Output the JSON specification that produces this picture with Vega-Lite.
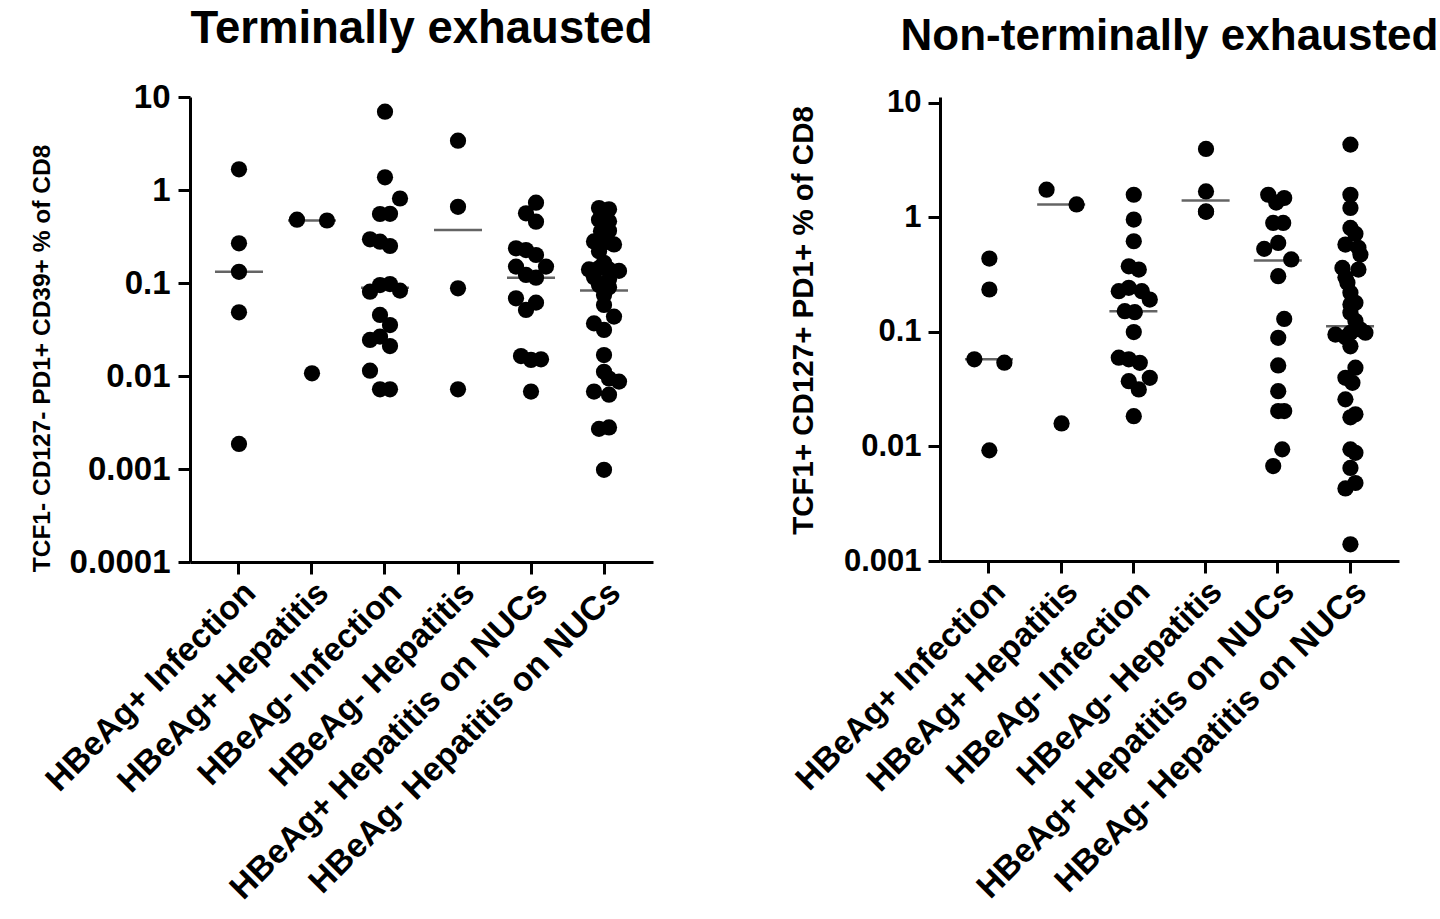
{
  "$schema": "https://vega.github.io/schema/vega-lite/v6.json",
  "background": "white",
  "padding": {"left": 28, "top": 6, "right": 0, "bottom": 0},
  "spacing": 134,
  "config": {
    "view": {"stroke": null},
    "font": "Liberation Sans",
    "title": {"font": "Liberation Sans", "fontSize": 44, "fontWeight": "bold", "color": "black", "anchor": "middle"},
    "axis": {
      "grid": false,
      "domainColor": "black",
      "domainWidth": 3,
      "tickColor": "black",
      "tickWidth": 3,
      "tickSize": 12,
      "labelFont": "Liberation Sans",
      "labelFontWeight": "bold",
      "labelColor": "black",
      "labelLimit": 0,
      "titleFont": "Liberation Sans",
      "titleFontWeight": "bold",
      "titleColor": "black",
      "titleLimit": 0
    },
    "axisX": {"labelAngle": -45, "labelAlign": "right", "labelBaseline": "top", "labelFontSize": 33.5, "labelPadding": 2, "title": null},
    "axisY": {"labelFontSize": 31, "labelPadding": 7, "titleAlign": "center", "titleBaseline": "middle", "titleAngle": -90}
  },
  "datasets": {
    "pts": [
      {"p":"T","g":"HBeAg+ Infection","v":1.67,"s":0},
      {"p":"T","g":"HBeAg+ Infection","v":0.267,"s":0},
      {"p":"T","g":"HBeAg+ Infection","v":0.132,"s":0},
      {"p":"T","g":"HBeAg+ Infection","v":0.0484,"s":0},
      {"p":"T","g":"HBeAg+ Infection","v":0.00186,"s":0},
      {"p":"T","g":"HBeAg+ Hepatitis","v":0.48,"s":-1.5},
      {"p":"T","g":"HBeAg+ Hepatitis","v":0.47,"s":1.5},
      {"p":"T","g":"HBeAg+ Hepatitis","v":0.0107,"s":0},
      {"p":"T","g":"HBeAg- Infection","v":6.95,"s":0},
      {"p":"T","g":"HBeAg- Infection","v":1.37,"s":0},
      {"p":"T","g":"HBeAg- Infection","v":0.81,"s":1.5},
      {"p":"T","g":"HBeAg- Infection","v":0.552,"s":-0.5},
      {"p":"T","g":"HBeAg- Infection","v":0.555,"s":0.5},
      {"p":"T","g":"HBeAg- Infection","v":0.295,"s":-1.5},
      {"p":"T","g":"HBeAg- Infection","v":0.278,"s":-0.5},
      {"p":"T","g":"HBeAg- Infection","v":0.25,"s":0.5},
      {"p":"T","g":"HBeAg- Infection","v":0.0807,"s":-1.5},
      {"p":"T","g":"HBeAg- Infection","v":0.095,"s":-0.5},
      {"p":"T","g":"HBeAg- Infection","v":0.0975,"s":0.5},
      {"p":"T","g":"HBeAg- Infection","v":0.0828,"s":1.5},
      {"p":"T","g":"HBeAg- Infection","v":0.0453,"s":-0.5},
      {"p":"T","g":"HBeAg- Infection","v":0.0353,"s":0.5},
      {"p":"T","g":"HBeAg- Infection","v":0.0244,"s":-1.5},
      {"p":"T","g":"HBeAg- Infection","v":0.0265,"s":-0.5},
      {"p":"T","g":"HBeAg- Infection","v":0.021,"s":0.5},
      {"p":"T","g":"HBeAg- Infection","v":0.0114,"s":-1.5},
      {"p":"T","g":"HBeAg- Infection","v":0.0072,"s":-0.5},
      {"p":"T","g":"HBeAg- Infection","v":0.0072,"s":0.5},
      {"p":"T","g":"HBeAg- Hepatitis","v":3.39,"s":0},
      {"p":"T","g":"HBeAg- Hepatitis","v":0.66,"s":0},
      {"p":"T","g":"HBeAg- Hepatitis","v":0.0877,"s":0},
      {"p":"T","g":"HBeAg- Hepatitis","v":0.0072,"s":0},
      {"p":"T","g":"HBeAg+ Hepatitis on NUCs","v":0.731,"s":0.5},
      {"p":"T","g":"HBeAg+ Hepatitis on NUCs","v":0.561,"s":-0.5},
      {"p":"T","g":"HBeAg+ Hepatitis on NUCs","v":0.456,"s":0.5},
      {"p":"T","g":"HBeAg+ Hepatitis on NUCs","v":0.236,"s":-1.5},
      {"p":"T","g":"HBeAg+ Hepatitis on NUCs","v":0.226,"s":-0.5},
      {"p":"T","g":"HBeAg+ Hepatitis on NUCs","v":0.2,"s":0.5},
      {"p":"T","g":"HBeAg+ Hepatitis on NUCs","v":0.15,"s":1.5},
      {"p":"T","g":"HBeAg+ Hepatitis on NUCs","v":0.15,"s":-1.5},
      {"p":"T","g":"HBeAg+ Hepatitis on NUCs","v":0.122,"s":-0.5},
      {"p":"T","g":"HBeAg+ Hepatitis on NUCs","v":0.114,"s":0.5},
      {"p":"T","g":"HBeAg+ Hepatitis on NUCs","v":0.0684,"s":-1.5},
      {"p":"T","g":"HBeAg+ Hepatitis on NUCs","v":0.0615,"s":0.5},
      {"p":"T","g":"HBeAg+ Hepatitis on NUCs","v":0.0513,"s":-0.5},
      {"p":"T","g":"HBeAg+ Hepatitis on NUCs","v":0.0164,"s":-1},
      {"p":"T","g":"HBeAg+ Hepatitis on NUCs","v":0.0149,"s":0},
      {"p":"T","g":"HBeAg+ Hepatitis on NUCs","v":0.0151,"s":1},
      {"p":"T","g":"HBeAg+ Hepatitis on NUCs","v":0.0068,"s":0},
      {"p":"T","g":"HBeAg- Hepatitis on NUCs","v":0.64,"s":-0.5},
      {"p":"T","g":"HBeAg- Hepatitis on NUCs","v":0.62,"s":0.5},
      {"p":"T","g":"HBeAg- Hepatitis on NUCs","v":0.48,"s":-0.5},
      {"p":"T","g":"HBeAg- Hepatitis on NUCs","v":0.46,"s":0.5},
      {"p":"T","g":"HBeAg- Hepatitis on NUCs","v":0.36,"s":-0.3},
      {"p":"T","g":"HBeAg- Hepatitis on NUCs","v":0.365,"s":0.5},
      {"p":"T","g":"HBeAg- Hepatitis on NUCs","v":0.28,"s":-1},
      {"p":"T","g":"HBeAg- Hepatitis on NUCs","v":0.27,"s":0},
      {"p":"T","g":"HBeAg- Hepatitis on NUCs","v":0.26,"s":1},
      {"p":"T","g":"HBeAg- Hepatitis on NUCs","v":0.22,"s":-0.5},
      {"p":"T","g":"HBeAg- Hepatitis on NUCs","v":0.165,"s":0},
      {"p":"T","g":"HBeAg- Hepatitis on NUCs","v":0.14,"s":-1.5},
      {"p":"T","g":"HBeAg- Hepatitis on NUCs","v":0.145,"s":-0.5},
      {"p":"T","g":"HBeAg- Hepatitis on NUCs","v":0.14,"s":0.5},
      {"p":"T","g":"HBeAg- Hepatitis on NUCs","v":0.135,"s":1.5},
      {"p":"T","g":"HBeAg- Hepatitis on NUCs","v":0.115,"s":-1},
      {"p":"T","g":"HBeAg- Hepatitis on NUCs","v":0.11,"s":0.5},
      {"p":"T","g":"HBeAg- Hepatitis on NUCs","v":0.095,"s":-0.5},
      {"p":"T","g":"HBeAg- Hepatitis on NUCs","v":0.09,"s":0.5},
      {"p":"T","g":"HBeAg- Hepatitis on NUCs","v":0.0743,"s":0},
      {"p":"T","g":"HBeAg- Hepatitis on NUCs","v":0.058,"s":0},
      {"p":"T","g":"HBeAg- Hepatitis on NUCs","v":0.0435,"s":1},
      {"p":"T","g":"HBeAg- Hepatitis on NUCs","v":0.0368,"s":-1},
      {"p":"T","g":"HBeAg- Hepatitis on NUCs","v":0.0313,"s":0},
      {"p":"T","g":"HBeAg- Hepatitis on NUCs","v":0.0168,"s":0},
      {"p":"T","g":"HBeAg- Hepatitis on NUCs","v":0.0111,"s":0},
      {"p":"T","g":"HBeAg- Hepatitis on NUCs","v":0.0094,"s":0.5},
      {"p":"T","g":"HBeAg- Hepatitis on NUCs","v":0.0087,"s":1.5},
      {"p":"T","g":"HBeAg- Hepatitis on NUCs","v":0.0068,"s":-1},
      {"p":"T","g":"HBeAg- Hepatitis on NUCs","v":0.0063,"s":0.5},
      {"p":"T","g":"HBeAg- Hepatitis on NUCs","v":0.0027,"s":-0.5},
      {"p":"T","g":"HBeAg- Hepatitis on NUCs","v":0.0028,"s":0.5},
      {"p":"T","g":"HBeAg- Hepatitis on NUCs","v":0.00098,"s":0},

      {"p":"N","g":"HBeAg+ Infection","v":0.438,"s":0},
      {"p":"N","g":"HBeAg+ Infection","v":0.235,"s":0},
      {"p":"N","g":"HBeAg+ Infection","v":0.0577,"s":-1.5},
      {"p":"N","g":"HBeAg+ Infection","v":0.0539,"s":1.5},
      {"p":"N","g":"HBeAg+ Infection","v":0.00925,"s":0},
      {"p":"N","g":"HBeAg+ Hepatitis","v":1.75,"s":-1.5},
      {"p":"N","g":"HBeAg+ Hepatitis","v":1.3,"s":1.5},
      {"p":"N","g":"HBeAg+ Hepatitis","v":0.0159,"s":0},
      {"p":"N","g":"HBeAg- Infection","v":1.58,"s":0},
      {"p":"N","g":"HBeAg- Infection","v":0.96,"s":0},
      {"p":"N","g":"HBeAg- Infection","v":0.62,"s":0},
      {"p":"N","g":"HBeAg- Infection","v":0.375,"s":-0.5},
      {"p":"N","g":"HBeAg- Infection","v":0.351,"s":0.5},
      {"p":"N","g":"HBeAg- Infection","v":0.243,"s":-0.5},
      {"p":"N","g":"HBeAg- Infection","v":0.227,"s":-1.5},
      {"p":"N","g":"HBeAg- Infection","v":0.227,"s":0.8},
      {"p":"N","g":"HBeAg- Infection","v":0.192,"s":1.6},
      {"p":"N","g":"HBeAg- Infection","v":0.152,"s":-0.9},
      {"p":"N","g":"HBeAg- Infection","v":0.149,"s":0.1},
      {"p":"N","g":"HBeAg- Infection","v":0.0998,"s":0},
      {"p":"N","g":"HBeAg- Infection","v":0.0596,"s":-1.5},
      {"p":"N","g":"HBeAg- Infection","v":0.0577,"s":-0.5},
      {"p":"N","g":"HBeAg- Infection","v":0.0538,"s":0.6},
      {"p":"N","g":"HBeAg- Infection","v":0.0398,"s":1.6},
      {"p":"N","g":"HBeAg- Infection","v":0.0372,"s":-0.5},
      {"p":"N","g":"HBeAg- Infection","v":0.0315,"s":0.5},
      {"p":"N","g":"HBeAg- Infection","v":0.0184,"s":0},
      {"p":"N","g":"HBeAg- Hepatitis","v":3.97,"s":0},
      {"p":"N","g":"HBeAg- Hepatitis","v":1.69,"s":0},
      {"p":"N","g":"HBeAg- Hepatitis","v":1.13,"s":0},
      {"p":"N","g":"HBeAg- Hepatitis","v":1.12,"s":0},
      {"p":"N","g":"HBeAg+ Hepatitis on NUCs","v":1.58,"s":-1},
      {"p":"N","g":"HBeAg+ Hepatitis on NUCs","v":1.48,"s":0.6},
      {"p":"N","g":"HBeAg+ Hepatitis on NUCs","v":1.35,"s":-0.2},
      {"p":"N","g":"HBeAg+ Hepatitis on NUCs","v":0.897,"s":-0.5},
      {"p":"N","g":"HBeAg+ Hepatitis on NUCs","v":0.897,"s":0.5},
      {"p":"N","g":"HBeAg+ Hepatitis on NUCs","v":0.6,"s":0},
      {"p":"N","g":"HBeAg+ Hepatitis on NUCs","v":0.532,"s":-1.4},
      {"p":"N","g":"HBeAg+ Hepatitis on NUCs","v":0.43,"s":1.3},
      {"p":"N","g":"HBeAg+ Hepatitis on NUCs","v":0.307,"s":0},
      {"p":"N","g":"HBeAg+ Hepatitis on NUCs","v":0.13,"s":0.6},
      {"p":"N","g":"HBeAg+ Hepatitis on NUCs","v":0.0889,"s":0},
      {"p":"N","g":"HBeAg+ Hepatitis on NUCs","v":0.051,"s":0},
      {"p":"N","g":"HBeAg+ Hepatitis on NUCs","v":0.0304,"s":0},
      {"p":"N","g":"HBeAg+ Hepatitis on NUCs","v":0.0204,"s":0},
      {"p":"N","g":"HBeAg+ Hepatitis on NUCs","v":0.0204,"s":0.6},
      {"p":"N","g":"HBeAg+ Hepatitis on NUCs","v":0.00944,"s":0.4},
      {"p":"N","g":"HBeAg+ Hepatitis on NUCs","v":0.00675,"s":-0.5},
      {"p":"N","g":"HBeAg- Hepatitis on NUCs","v":4.33,"s":0},
      {"p":"N","g":"HBeAg- Hepatitis on NUCs","v":1.58,"s":0},
      {"p":"N","g":"HBeAg- Hepatitis on NUCs","v":1.21,"s":0},
      {"p":"N","g":"HBeAg- Hepatitis on NUCs","v":0.81,"s":0},
      {"p":"N","g":"HBeAg- Hepatitis on NUCs","v":0.72,"s":0.5},
      {"p":"N","g":"HBeAg- Hepatitis on NUCs","v":0.58,"s":-0.5},
      {"p":"N","g":"HBeAg- Hepatitis on NUCs","v":0.543,"s":0.8},
      {"p":"N","g":"HBeAg- Hepatitis on NUCs","v":0.474,"s":1},
      {"p":"N","g":"HBeAg- Hepatitis on NUCs","v":0.363,"s":-0.8},
      {"p":"N","g":"HBeAg- Hepatitis on NUCs","v":0.351,"s":0.8},
      {"p":"N","g":"HBeAg- Hepatitis on NUCs","v":0.3,"s":-0.5},
      {"p":"N","g":"HBeAg- Hepatitis on NUCs","v":0.269,"s":-0.3},
      {"p":"N","g":"HBeAg- Hepatitis on NUCs","v":0.22,"s":0},
      {"p":"N","g":"HBeAg- Hepatitis on NUCs","v":0.18,"s":0.5},
      {"p":"N","g":"HBeAg- Hepatitis on NUCs","v":0.174,"s":0},
      {"p":"N","g":"HBeAg- Hepatitis on NUCs","v":0.147,"s":0},
      {"p":"N","g":"HBeAg- Hepatitis on NUCs","v":0.125,"s":0.5},
      {"p":"N","g":"HBeAg- Hepatitis on NUCs","v":0.105,"s":1},
      {"p":"N","g":"HBeAg- Hepatitis on NUCs","v":0.095,"s":-1.5},
      {"p":"N","g":"HBeAg- Hepatitis on NUCs","v":0.0985,"s":0},
      {"p":"N","g":"HBeAg- Hepatitis on NUCs","v":0.0985,"s":1.5},
      {"p":"N","g":"HBeAg- Hepatitis on NUCs","v":0.09,"s":-0.5},
      {"p":"N","g":"HBeAg- Hepatitis on NUCs","v":0.075,"s":0},
      {"p":"N","g":"HBeAg- Hepatitis on NUCs","v":0.0488,"s":0.5},
      {"p":"N","g":"HBeAg- Hepatitis on NUCs","v":0.0398,"s":-0.5},
      {"p":"N","g":"HBeAg- Hepatitis on NUCs","v":0.036,"s":0.2},
      {"p":"N","g":"HBeAg- Hepatitis on NUCs","v":0.0258,"s":-0.5},
      {"p":"N","g":"HBeAg- Hepatitis on NUCs","v":0.0191,"s":0.5},
      {"p":"N","g":"HBeAg- Hepatitis on NUCs","v":0.018,"s":0},
      {"p":"N","g":"HBeAg- Hepatitis on NUCs","v":0.00944,"s":0},
      {"p":"N","g":"HBeAg- Hepatitis on NUCs","v":0.0088,"s":0.5},
      {"p":"N","g":"HBeAg- Hepatitis on NUCs","v":0.0065,"s":0},
      {"p":"N","g":"HBeAg- Hepatitis on NUCs","v":0.0048,"s":0.5},
      {"p":"N","g":"HBeAg- Hepatitis on NUCs","v":0.0043,"s":-0.5},
      {"p":"N","g":"HBeAg- Hepatitis on NUCs","v":0.0014,"s":0}
    ],
    "meds": [
      {"p":"T","g":"HBeAg+ Infection","m":0.132},
      {"p":"T","g":"HBeAg+ Hepatitis","m":0.47},
      {"p":"T","g":"HBeAg- Infection","m":0.089},
      {"p":"T","g":"HBeAg- Hepatitis","m":0.372},
      {"p":"T","g":"HBeAg+ Hepatitis on NUCs","m":0.114},
      {"p":"T","g":"HBeAg- Hepatitis on NUCs","m":0.083},
      {"p":"N","g":"HBeAg+ Infection","m":0.0577},
      {"p":"N","g":"HBeAg+ Hepatitis","m":1.3},
      {"p":"N","g":"HBeAg- Infection","m":0.152},
      {"p":"N","g":"HBeAg- Hepatitis","m":1.41},
      {"p":"N","g":"HBeAg+ Hepatitis on NUCs","m":0.421},
      {"p":"N","g":"HBeAg- Hepatitis on NUCs","m":0.112}
    ]
  },
  "hconcat": [
    {
      "width": 463,
      "height": 465,
      "title": {"text": "Terminally exhausted", "offset": 29, "fontSize": 45.5},
      "layer": [
        {
          "data": {"name": "meds"},
          "transform": [{"filter": "datum.p === 'T'"}],
          "mark": {"type": "tick", "size": 48, "thickness": 2.5, "color": "#222222"},
          "encoding": {
            "x": {"field": "g", "type": "nominal", "sort": ["HBeAg+ Infection","HBeAg+ Hepatitis","HBeAg- Infection","HBeAg- Hepatitis","HBeAg+ Hepatitis on NUCs","HBeAg- Hepatitis on NUCs"],
                  "scale": {"domain": ["HBeAg+ Infection","HBeAg+ Hepatitis","HBeAg- Infection","HBeAg- Hepatitis","HBeAg+ Hepatitis on NUCs","HBeAg- Hepatitis on NUCs"], "paddingInner": 0, "paddingOuter": 0.171}},
            "y": {"field": "m", "type": "quantitative"}
          }
        },
        {
          "data": {"name": "pts"},
          "transform": [{"filter": "datum.p === 'T'"}],
          "mark": {"type": "circle", "size": 263, "color": "black", "opacity": 1},
          "encoding": {
            "x": {"field": "g", "type": "nominal", "sort": ["HBeAg+ Infection","HBeAg+ Hepatitis","HBeAg- Infection","HBeAg- Hepatitis","HBeAg+ Hepatitis on NUCs","HBeAg- Hepatitis on NUCs"],
                  "scale": {"domain": ["HBeAg+ Infection","HBeAg+ Hepatitis","HBeAg- Infection","HBeAg- Hepatitis","HBeAg+ Hepatitis on NUCs","HBeAg- Hepatitis on NUCs"], "paddingInner": 0, "paddingOuter": 0.171},
                  "axis": {"title": null}},
            "xOffset": {"field": "s", "type": "quantitative", "scale": {"domain": [-3.65, 3.65]}},
            "y": {"field": "v", "type": "quantitative",
                  "scale": {"type": "log", "domain": [0.0001, 10], "nice": false},
                  "axis": {"values": [0.0001, 0.001, 0.01, 0.1, 1, 10], "format": "~g", "labelFontSize": 33, "labelPadding": 8, "title": "TCF1- CD127- PD1+ CD39+ % of CD8", "titleFontSize": 24.5, "titleX": -148, "titleY": 261}}
          }
        }
      ]
    },
    {
      "width": 459,
      "height": 464,
      "title": {"text": "Non-terminally exhausted", "offset": 28, "fontSize": 44},
      "layer": [
        {
          "data": {"name": "meds"},
          "transform": [{"filter": "datum.p === 'N'"}],
          "mark": {"type": "tick", "size": 48, "thickness": 2.5, "color": "#222222"},
          "encoding": {
            "x": {"field": "g", "type": "nominal", "sort": ["HBeAg+ Infection","HBeAg+ Hepatitis","HBeAg- Infection","HBeAg- Hepatitis","HBeAg+ Hepatitis on NUCs","HBeAg- Hepatitis on NUCs"],
                  "scale": {"domain": ["HBeAg+ Infection","HBeAg+ Hepatitis","HBeAg- Infection","HBeAg- Hepatitis","HBeAg+ Hepatitis on NUCs","HBeAg- Hepatitis on NUCs"], "paddingInner": 0, "paddingOuter": 0.178}},
            "y": {"field": "m", "type": "quantitative"}
          }
        },
        {
          "data": {"name": "pts"},
          "transform": [{"filter": "datum.p === 'N'"}],
          "mark": {"type": "circle", "size": 263, "color": "black", "opacity": 1},
          "encoding": {
            "x": {"field": "g", "type": "nominal", "sort": ["HBeAg+ Infection","HBeAg+ Hepatitis","HBeAg- Infection","HBeAg- Hepatitis","HBeAg+ Hepatitis on NUCs","HBeAg- Hepatitis on NUCs"],
                  "scale": {"domain": ["HBeAg+ Infection","HBeAg+ Hepatitis","HBeAg- Infection","HBeAg- Hepatitis","HBeAg+ Hepatitis on NUCs","HBeAg- Hepatitis on NUCs"], "paddingInner": 0, "paddingOuter": 0.178},
                  "axis": {"title": null}},
            "xOffset": {"field": "s", "type": "quantitative", "scale": {"domain": [-3.615, 3.615]}},
            "y": {"field": "v", "type": "quantitative",
                  "scale": {"type": "log", "domain": [0.001, 11.28], "nice": false},
                  "axis": {"values": [0.001, 0.01, 0.1, 1, 10], "format": "~g", "title": "TCF1+ CD127+ PD1+ % of CD8", "titleFontSize": 29.5, "titleX": -137, "titleY": 223}}
          }
        }
      ]
    }
  ]
}
